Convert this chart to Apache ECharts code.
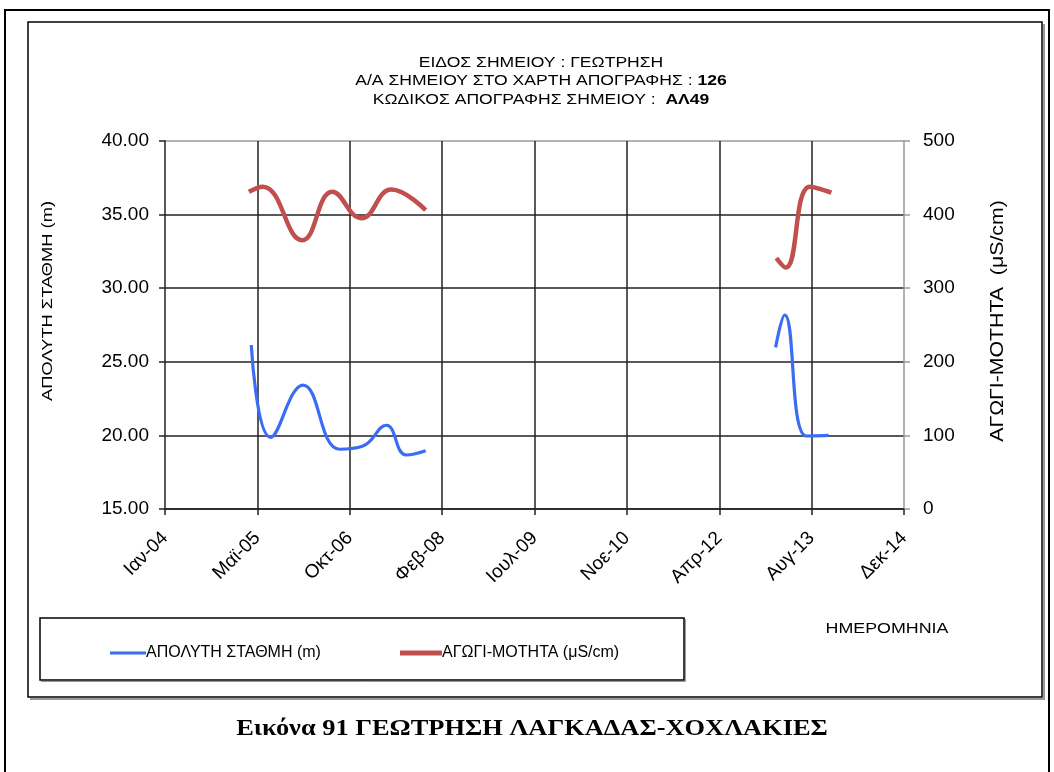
<!DOCTYPE html>
<html>
<head>
<meta charset="utf-8">
<script src="https://cdn.jsdelivr.net/npm/echarts@6/dist/echarts.min.js"></script>
<style>
  html, body { margin: 0; padding: 0; background: #fff; }
  #chart { width: 1054px; height: 772px; }
</style>
</head>
<body>
<div id="chart"></div>
<script>
// ονόματα μηνών για τις ετικέτες του άξονα x
const monthNames = ['Ιαν', 'Φεβ', 'Μαρ', 'Απρ', 'Μαϊ', 'Ιουν', 'Ιουλ', 'Αυγ', 'Σεπ', 'Οκτ', 'Νοε', 'Δεκ'];

// απόλυτη στάθμη (m) - null = κενό στις μετρήσεις
const levelDates = ['2005-04-26', '2005-08-09', '2006-01-31', '2006-08-17', '2006-12-21', '2007-04-27', '2007-08-13', '2007-11-26', null,
  '2013-02-01', '2013-03-22', '2013-07-17', '2013-11-15'];
const levelValues = [26.14, 19.87, 23.42, 19.06, 19.28, 20.69, 18.67, 18.96, null,
  25.98, 28.18, 19.96, 20.0];

// αγωγιμότητα (μS/cm)
const condDates = ['2005-04-13', '2005-06-28', '2006-01-27', '2006-07-09', '2006-12-13', '2007-05-24', '2007-11-26', null,
  '2013-02-05', '2013-03-28', '2013-08-05', '2013-11-30'];
const condValues = [431, 438, 365, 431, 395, 434, 406, null,
  341, 328, 438, 430];

const levelName = 'ΑΠΟΛΥΤΗ ΣΤΑΘΜΗ (m)';
const condName = 'ΑΓΩΓΙ-ΜΟΤΗΤΑ (μS/cm)';

const DAY = 864e5;
const xMin = Date.UTC(2004, 0, 15);
const xStep = 500 * DAY;

const toPairs = (dates, values) =>
  dates.map((d, i) => (d === null ? ['-', '-'] : [Date.parse(d), values[i]]));

const fmtDate = v => {
  const d = new Date(v);
  return monthNames[d.getUTCMonth()] + '-' + String(d.getUTCFullYear()).slice(2);
};

const FONT = "'Liberation Sans', Arial, sans-serif";
const gridColor = '#222';

const myChart = echarts.init(document.getElementById('chart'), null, { renderer: 'canvas' });

const legendText = { fontSize: 16, color: '#000', fontFamily: FONT, padding: [0, 0, 0, -5] };

myChart.setOption({
  backgroundColor: '#fff',
  animation: false,
  textStyle: { fontFamily: FONT },
  legend: [
    {
      left: 105,
      top: 640,
      itemWidth: 36,
      itemHeight: 3,
      icon: 'rect',
      textStyle: legendText,
      data: [levelName],
    },
    {
      left: 395,
      top: 640,
      itemWidth: 42,
      itemHeight: 5,
      icon: 'rect',
      textStyle: legendText,
      data: [condName],
    },
  ],
  grid: {
    left: 165,
    right: 150,
    top: 141,
    bottom: 263,
    show: false,
  },
  xAxis: {
    type: 'value',
    min: xMin,
    max: xMin + 8 * xStep,
    interval: xStep,
    axisLine: { show: true, lineStyle: { color: gridColor, width: 1.5 } },
    axisTick: { show: true, length: 6, lineStyle: { color: gridColor, width: 1.5 } },
    splitLine: { show: true, showMinLine: false, showMaxLine: false, lineStyle: { color: gridColor, width: 1.5 } },
    axisLabel: {
      rotate: 45,
      margin: 26,
      fontSize: 19,
      color: '#000',
      fontFamily: FONT,
      formatter: fmtDate,
    },
  },
  yAxis: [
    {
      type: 'value',
      min: 15,
      max: 40,
      interval: 5,
      axisLine: { show: true, lineStyle: { color: gridColor, width: 1.5 } },
      axisTick: { show: true, length: 6, lineStyle: { color: gridColor, width: 1.5 } },
      splitLine: {
        show: true,
        lineStyle: { color: [gridColor, gridColor, gridColor, gridColor, gridColor, '#999'], width: 1.5 },
      },
      axisLabel: {
        margin: 16,
        fontSize: 19,
        color: '#000',
        fontFamily: FONT,
        formatter: v => v.toFixed(2),
      },
    },
    {
      type: 'value',
      min: 0,
      max: 500,
      interval: 100,
      position: 'right',
      axisLine: { show: true, lineStyle: { color: '#999', width: 1.5 } },
      axisTick: { show: true, length: 6, lineStyle: { color: '#999', width: 1.5 } },
      splitLine: { show: false },
      axisLabel: {
        margin: 19,
        fontSize: 19,
        color: '#000',
        fontFamily: FONT,
      },
    },
  ],
  series: [
    {
      name: levelName,
      type: 'line',
      yAxisIndex: 0,
      smooth: 0.45,
      symbol: 'none',
      connectNulls: false,
      color: '#3a6cf4',
      lineStyle: { width: 3.2, color: '#3a6cf4' },
      data: toPairs(levelDates, levelValues),
      z: 3,
    },
    {
      name: condName,
      type: 'line',
      yAxisIndex: 1,
      smooth: 0.45,
      symbol: 'none',
      connectNulls: false,
      color: '#c0504d',
      lineStyle: { width: 4.5, color: '#c0504d' },
      data: toPairs(condDates, condValues),
      z: 4,
    },
  ],
  graphic: [
    // εξωτερικό πλαίσιο σελίδας
    {
      type: 'rect',
      shape: { x: 5, y: 10, width: 1044, height: 800 },
      style: { fill: 'none', stroke: '#000', lineWidth: 2 },
      silent: true,
    },
    // πλαίσιο διαγράμματος με σκιά κάτω/δεξιά
    {
      type: 'polyline',
      shape: { points: [[1044, 24], [1044, 699], [30, 699]] },
      style: { fill: 'none', stroke: '#999', lineWidth: 2 },
      silent: true,
    },
    {
      type: 'rect',
      shape: { x: 28, y: 22, width: 1014, height: 675 },
      style: { fill: 'none', stroke: '#000', lineWidth: 1.5 },
      silent: true,
    },
    // πλαίσιο υπομνήματος
    {
      type: 'rect',
      shape: { x: 40, y: 618, width: 644, height: 62 },
      style: { fill: 'none', stroke: '#000', lineWidth: 1.5 },
      silent: true,
    },
    {
      type: 'polyline',
      shape: { points: [[685.5, 619], [685.5, 681.5], [41, 681.5]] },
      style: { fill: 'none', stroke: '#999', lineWidth: 1 },
      silent: true,
    },
    // τίτλος
    {
      type: 'text',
      x: 541,
      y: 81,
      scaleX: 1.17,
      style: {
        text: 'ΕΙΔΟΣ ΣΗΜΕΙΟΥ : ΓΕΩΤΡΗΣΗ\nΑ/Α ΣΗΜΕΙΟΥ ΣΤΟ ΧΑΡΤΗ ΑΠΟΓΡΑΦΗΣ : {b|126}\nΚΩΔΙΚΟΣ ΑΠΟΓΡΑΦΗΣ ΣΗΜΕΙΟΥ :  {b|ΑΛ49}',
        fontSize: 15,
        fontFamily: FONT,
        fill: '#000',
        lineHeight: 18.5,
        align: 'center',
        verticalAlign: 'middle',
        rich: {
          b: { fontSize: 15, fontWeight: 'bold', fontFamily: FONT, fill: '#000', lineHeight: 18.5 },
        },
      },
    },
    // τίτλοι αξόνων
    {
      type: 'text',
      x: 48,
      y: 301,
      rotation: Math.PI / 2,
      scaleX: 1.22,
      style: {
        text: levelName,
        fontSize: 15,
        fontFamily: FONT,
        fill: '#000',
        align: 'center',
        verticalAlign: 'middle',
      },
    },
    {
      type: 'text',
      x: 998,
      y: 321,
      rotation: Math.PI / 2,
      scaleX: 1.12,
      style: {
        text: 'ΑΓΩΓΙ-ΜΟΤΗΤΑ  (μS/cm)',
        fontSize: 19,
        fontFamily: FONT,
        fill: '#000',
        align: 'center',
        verticalAlign: 'middle',
      },
    },
    {
      type: 'text',
      x: 887,
      y: 629,
      scaleX: 1.19,
      style: {
        text: 'ΗΜΕΡΟΜΗΝΙΑ',
        fontSize: 15,
        fontFamily: FONT,
        fill: '#000',
        align: 'center',
        verticalAlign: 'middle',
      },
    },
    // λεζάντα εικόνας
    {
      type: 'text',
      x: 532,
      y: 729,
      scaleX: 1.1,
      style: {
        text: 'Εικόνα 91 ΓΕΩΤΡΗΣΗ ΛΑΓΚΑΔΑΣ-ΧΟΧΛΑΚΙΕΣ',
        fontSize: 24,
        fontWeight: 'bold',
        fontFamily: "'Liberation Serif', 'Times New Roman', serif",
        fill: '#000',
        align: 'center',
        verticalAlign: 'middle',
      },
    },
  ],
});
</script>
</body>
</html>
